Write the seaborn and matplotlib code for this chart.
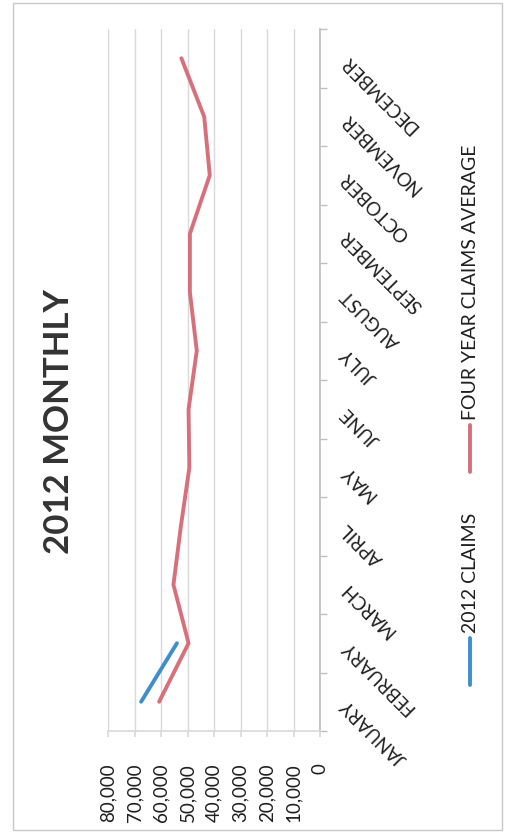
import pandas as pd
import matplotlib.pyplot as plt
import seaborn as sns
from matplotlib.lines import Line2D
from matplotlib.patches import Rectangle
from matplotlib.ticker import FuncFormatter

sns.set_theme(style="white")
plt.rcParams['font.family'] = ['Lato', 'DejaVu Sans']

# chart data
months = ['JANUARY', 'FEBRUARY', 'MARCH', 'APRIL', 'MAY', 'JUNE',
          'JULY', 'AUGUST', 'SEPTEMBER', 'OCTOBER', 'NOVEMBER', 'DECEMBER']
claims_2012 = [67500, 54000]
four_year_avg = [60700, 49600, 55300, 52500, 49300, 49600,
                 46500, 49100, 49100, 41600, 43700, 52300]
value_ticks = [0, 10000, 20000, 30000, 40000, 50000, 60000, 70000, 80000]
series_names = ['2012 CLAIMS', 'FOUR YEAR CLAIMS AVERAGE']
colors = {'2012 CLAIMS': '#3f8ecb', 'FOUR YEAR CLAIMS AVERAGE': '#d8707c'}

df = pd.concat([
    pd.DataFrame({'pos': range(len(claims_2012)), 'claims': claims_2012,
                  'series': series_names[0]}),
    pd.DataFrame({'pos': range(len(four_year_avg)), 'claims': four_year_avg,
                  'series': series_names[1]}),
])

W, H = 509, 833
fig = plt.figure(figsize=(W / 100, H / 100), dpi=100)

# outer chart border
fig.patches.append(Rectangle((13 / W, 3 / H), 489 / W, 827 / H, transform=fig.transFigure,
                             fill=False, edgecolor='#c8c8c8', linewidth=1))

# the whole chart is turned on its side: values run right-to-left, months bottom-to-top
ax = fig.add_axes([108 / W, (H - 731) / H, (320 - 108) / W, (731 - 29) / H])
sns.lineplot(data=df, x='claims', y='pos', hue='series', palette=colors,
             orient='y', linewidth=2.8, legend=False, ax=ax)

ax.set_xlim(80000, 0)
ax.set_ylim(-0.5, 11.5)
ax.set_xticks(value_ticks)
ax.xaxis.set_major_formatter(FuncFormatter(lambda v, p: f'{int(v):,}'))
ax.grid(axis='x', color='#d9d9d9', linewidth=1)
ax.grid(axis='y', visible=False)
ax.tick_params(axis='x', bottom=True, length=4, color='#d9d9d9', pad=19,
               labelrotation=90, labelsize=13.5, labelcolor='#1f1f1f')
for lab in ax.get_xticklabels():
    lab.set_va('top')

ax.yaxis.tick_right()
ax.set_yticks(range(len(months)))
ax.set_yticklabels(months)
ax.set_yticks([i - 0.5 for i in range(len(months) + 1)], minor=True)
ax.tick_params(axis='y', which='major', length=0, pad=17, labelsize=13.5,
               labelcolor='#1f1f1f')
ax.tick_params(axis='y', which='minor', right=True, length=5, color='#bfbfbf')
for lab in ax.get_yticklabels():
    lab.set_rotation(135)
    lab.set_rotation_mode('anchor')
    lab.set_ha('right')
    lab.set_va('center')

for side in ['left', 'top']:
    ax.spines[side].set_visible(False)
ax.spines['right'].set_color('#bfbfbf')
ax.spines['bottom'].set_color('#d9d9d9')
ax.set_xlabel('')
ax.set_ylabel('')

# title, turned with the chart
fig.text(59 / W, (H - 422) / H, '2012 MONTHLY', rotation=90, ha='center', va='center',
         fontsize=25, fontweight='bold', color='#333333')

# legend drawn by hand so it can sit sideways like the rest
legend_x = 470 / W
fig.add_artist(Line2D([legend_x, legend_x], [(H - 685) / H, (H - 638) / H],
                      color=colors['2012 CLAIMS'], linewidth=2.8, transform=fig.transFigure))
fig.text(legend_x, (H - 633) / H, '2012 CLAIMS', rotation=90, ha='center', va='bottom',
         fontsize=14, color='#1f1f1f')
fig.add_artist(Line2D([legend_x, legend_x], [(H - 472) / H, (H - 425) / H],
                      color=colors['FOUR YEAR CLAIMS AVERAGE'], linewidth=2.8,
                      transform=fig.transFigure))
fig.text(legend_x, (H - 420) / H, 'FOUR YEAR CLAIMS AVERAGE', rotation=90, ha='center',
         va='bottom', fontsize=14, color='#1f1f1f')

fig.savefig('out.png', dpi=100)
